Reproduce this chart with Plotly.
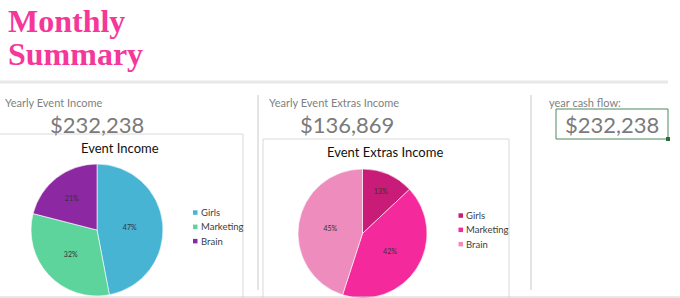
import plotly.graph_objects as go

W, H = 680, 298

categories = ["Girls", "Marketing", "Brain"]
income_values = [109152, 74316, 48770]
extras_values = [17793, 57485, 61591]
income_colors = ["#47b4d4", "#5cd49c", "#8d28a3"]
extras_colors = ["#c81c78", "#f4299c", "#ee8cbd"]

title_lines = ["Monthly", "Summary"]
income_label = "Yearly Event Income"
income_total = "$232,238"
extras_label = "Yearly Event Extras Income"
extras_total = "$136,869"
cash_label = "year cash flow:"
cash_total = "$232,238"


def px(x):
    return x / W


def py(y):
    return 1 - y / H


def pie_domain(cx, cy, r):
    return dict(x=[max(0, px(cx - r)), min(1, px(cx + r))],
                y=[max(0, py(cy + r)), min(1, py(cy - r))])


fig = go.Figure()

fig.add_trace(go.Pie(
    labels=categories, values=income_values, sort=False, direction="clockwise",
    rotation=0, marker=dict(colors=income_colors, line=dict(color="white", width=0.6)),
    texttemplate="%{percent:.0%}", textposition="inside", insidetextorientation="horizontal",
    textfont=dict(family="Lato", size=7, color="#333333"),
    domain=pie_domain(97, 230, 66), showlegend=False, hoverinfo="label+percent",
))
fig.add_trace(go.Pie(
    labels=categories, values=extras_values, sort=False, direction="clockwise",
    rotation=0, marker=dict(colors=extras_colors, line=dict(color="white", width=0.6)),
    texttemplate="%{percent:.0%}", textposition="inside", insidetextorientation="horizontal",
    textfont=dict(family="Lato", size=7, color="#333333"),
    domain=pie_domain(362.5, 233.5, 64.5), showlegend=False, hoverinfo="label+percent",
))

grey_line = "#e4e4e4"
shapes = [
    dict(type="line", xref="paper", yref="paper", x0=px(0), x1=px(668), y0=py(82), y1=py(82),
         line=dict(color="#e8e8e8", width=3)),
    dict(type="line", xref="paper", yref="paper", x0=px(258), x1=px(258), y0=py(95), y1=py(290),
         line=dict(color=grey_line, width=2)),
    dict(type="line", xref="paper", yref="paper", x0=px(531), x1=px(531), y0=py(95), y1=py(290),
         line=dict(color=grey_line, width=2)),
    dict(type="rect", xref="paper", yref="paper", x0=px(-2), x1=px(243), y0=py(300), y1=py(134),
         line=dict(color="#d9d9d9", width=1), layer="below"),
    dict(type="rect", xref="paper", yref="paper", x0=px(263), x1=px(509), y0=py(300), y1=py(139),
         line=dict(color="#d9d9d9", width=1), layer="below"),
    dict(type="line", xref="paper", yref="paper", x0=0, x1=1, y0=py(297), y1=py(297),
         line=dict(color="#d0d0d0", width=1)),
    dict(type="rect", xref="paper", yref="paper", x0=px(556), x1=px(668), y0=py(139), y1=py(109),
         line=dict(color="#4e8a5c", width=1)),
    dict(type="rect", xref="paper", yref="paper", x0=px(666), x1=px(670), y0=py(141), y1=py(137),
         line=dict(color="#2f6b3f", width=0), fillcolor="#2f6b3f"),
]

pink = "#f5379a"
grey_txt = "#7f7f7f"
ann = []
for i, t in enumerate(title_lines):
    ann.append(dict(text=f"<b>{t}</b>", x=px(6), y=py(21 + 33 * i), xanchor="left", yanchor="middle",
                    font=dict(family="Liberation Serif", size=32, color=pink)))


def label(text, x, y, size, color, anchor="left", bold=False, family="Lato"):
    return dict(text=f"<b>{text}</b>" if bold else text, x=px(x), y=py(y), xanchor=anchor,
                yanchor="middle", font=dict(family=family, size=size, color=color))


ann += [
    label(income_label, 3, 102, 11, grey_txt),
    label(income_total, 97, 124, 22, "#7a7a7a", "center"),
    label(extras_label, 267, 102, 11, grey_txt),
    label(extras_total, 347, 124, 22, "#7a7a7a", "center"),
    label(cash_label, 547, 102, 11, grey_txt),
    label(cash_total, 612, 124, 22, "#7a7a7a", "center"),
    label("Event Income", 120, 148, 13, "#111111", "center"),
    label("Event Extras Income", 385, 152, 13, "#111111", "center"),
]

# small legends (square swatch + label) beside each pie
legends = [(193, 212.5, income_colors), (458.5, 215.5, extras_colors)]
for lx, ly, cols in legends:
    for i, (cat, col) in enumerate(zip(categories, cols)):
        yy = ly + 14.3 * i
        shapes.append(dict(type="rect", xref="paper", yref="paper", x0=px(lx), x1=px(lx + 4.5),
                           y0=py(yy + 2.3), y1=py(yy - 2.2), line=dict(width=0), fillcolor=col))
        ann.append(label(cat, lx + 5.5, yy, 9.5, "#404040"))

for a in ann:
    a.update(showarrow=False, xref="paper", yref="paper")

fig.update_layout(
    width=W, height=H, margin=dict(l=0, r=0, t=0, b=0),
    paper_bgcolor="white", plot_bgcolor="white",
    shapes=shapes, annotations=ann, showlegend=False,
)

fig.write_html("out.html")
